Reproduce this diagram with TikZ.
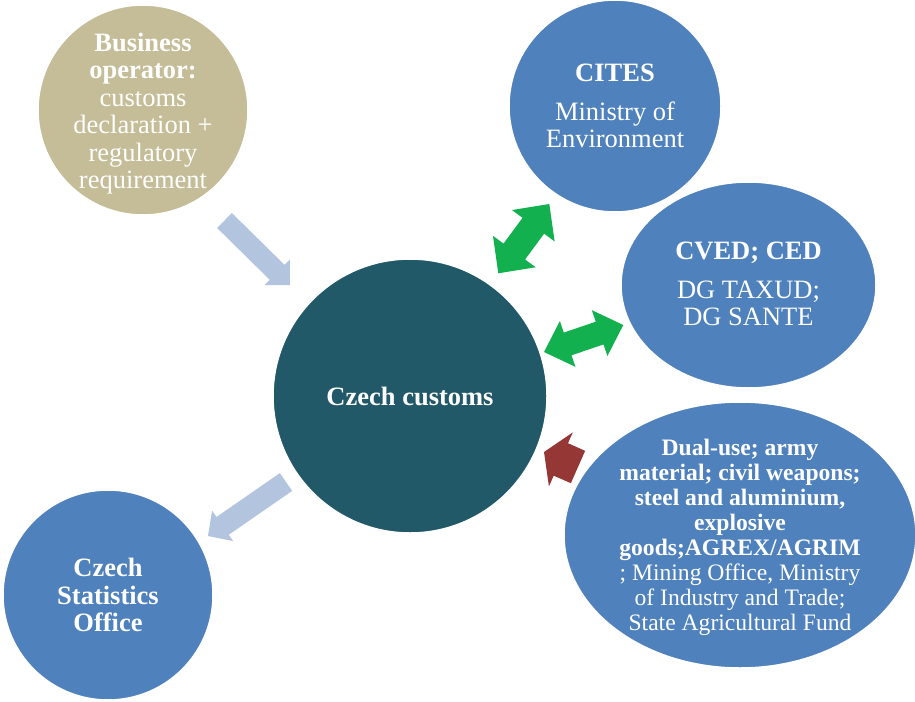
\documentclass[tikz,border=0pt]{standalone}
\usepackage{fontspec}
\setmainfont{Liberation Serif}
\usetikzlibrary{calc,shapes.geometric}
\definecolor{bizcol}{HTML}{C4BD97}
\definecolor{bluecol}{HTML}{4F81BD}
\definecolor{tealcol}{HTML}{215968}
\definecolor{lbcol}{HTML}{B3C4DF}
\definecolor{grcol}{HTML}{12B04E}
\definecolor{redcol}{HTML}{953735}
\newcommand\bigtxt{\fontsize{26.5}{27.5}\selectfont}
\newcommand\smalltxt{\fontsize{23.6}{24.9}\selectfont}
\newcommand\onearrow[6]{% style, tail, tip, shaft half width, head half width, head length
  \coordinate (#2-#3-h) at ($(#3)!#6!(#2)$);
  \fill[#1] ($(#2)!#4!90:(#3)$) -- ($(#2-#3-h)!#4!90:(#3)$) -- ($(#2-#3-h)!#5!90:(#3)$) -- (#3)
    -- ($(#2-#3-h)!#5!-90:(#3)$) -- ($(#2-#3-h)!#4!-90:(#3)$) -- ($(#2)!#4!-90:(#3)$) -- cycle;
}
\newcommand\twoarrow[6]{% style, tip A, tip B, shaft half width, head half width, head length
  \coordinate (#2-#3-ha) at ($(#2)!#6!(#3)$);
  \coordinate (#2-#3-hb) at ($(#3)!#6!(#2)$);
  \fill[#1] (#2) -- ($(#2-#3-ha)!#5!90:(#3)$) -- ($(#2-#3-ha)!#4!90:(#3)$) -- ($(#2-#3-hb)!#4!90:(#3)$)
    -- ($(#2-#3-hb)!#5!90:(#3)$) -- (#3) -- ($(#2-#3-hb)!#5!-90:(#3)$) -- ($(#2-#3-hb)!#4!-90:(#3)$)
    -- ($(#2-#3-ha)!#4!-90:(#3)$) -- ($(#2-#3-ha)!#5!-90:(#3)$) -- cycle;
}
\tikzset{
  blob/.style={circle, inner sep=0pt, outer sep=0pt, draw=white, line width=1.5pt},
  oval/.style={ellipse, inner sep=0pt, outer sep=0pt, draw=white, line width=1.5pt},
  txt/.style={text=white, align=center, inner sep=0pt, font=\bigtxt},
  smalltx/.style={txt, font=\smalltxt},
}
\begin{document}
\begin{tikzpicture}[x=1pt,y=-1pt]
\useasboundingbox[fill=white] (0,0) rectangle (915,701);
% shapes
\node[blob, fill=bizcol, minimum size=210pt] (biz) at (143,110) {};
\node[blob, fill=bluecol, minimum size=212pt] (cites) at (615,106) {};
\node[oval, fill=bluecol, minimum width=255pt, minimum height=206pt] (cved) at (748.5,285) {};
\node[blob, fill=tealcol, minimum size=274pt] (customs) at (410,396) {};
\node[oval, fill=bluecol, minimum width=352pt, minimum height=266pt] (dual) at (740,535) {};
\node[blob, fill=bluecol, minimum size=210pt] (stat) at (108,595) {};
% texts
\node[txt] (bizt) at ($(biz.center)+(0,3.5)$) {\textbf{Business}\\\textbf{operator:}\\customs\\declaration +\\regulatory\\requirement};
\node[txt] (citest) at (cites.center) {\textbf{CITES}\\[11.5pt]Ministry of\\Environment};
\node[txt] (cvedt) at ($(cved.center)+(0,-1)$) {\textbf{CVED; CED}\\[11.5pt]DG TAXUD;\\DG SANTE};
\node[txt] (customst) at (customs.center) {\textbf{Czech customs}};
\node[smalltx] (dualt) at ($(dual.center)+(0,2.5)$) {\textbf{Dual-use; army}\\\textbf{material; civil weapons;}\\\textbf{steel and aluminium,}\\\textbf{explosive}\\\textbf{goods;AGREX/AGRIM}\\; Mining Office, Ministry\\of Industry and Trade;\\State Agricultural Fund};
\node[txt] (statt) at (stat.center) {\textbf{Czech}\\\textbf{Statistics}\\\textbf{Office}};
% arrow end points
\coordinate (a1t) at (224.5,220.5);
\coordinate (a1h) at (290,285);
\coordinate (a2t) at (286,482);
\coordinate (a2h) at (208,536);
\coordinate (g1a) at (498.3,273.3);
\coordinate (g1b) at (549.3,204);
\coordinate (g2a) at (544,352);
\coordinate (g2b) at (623.3,325);
\coordinate (r1t) at (578,467);
\coordinate (r1h) at (544,452);
% arrows
\onearrow{lbcol}{a1t}{a1h}{10.5pt}{18pt}{18pt}
\onearrow{lbcol}{a2t}{a2h}{10.8pt}{18.5pt}{17.8pt}
\twoarrow{grcol}{g1a}{g1b}{13.4pt}{26.5pt}{27pt}
\twoarrow{grcol}{g2a}{g2b}{12pt}{24.2pt}{25pt}
\onearrow{redcol}{r1t}{r1h}{17.7pt}{29.5pt}{18.4pt}
\end{tikzpicture}
\end{document}
